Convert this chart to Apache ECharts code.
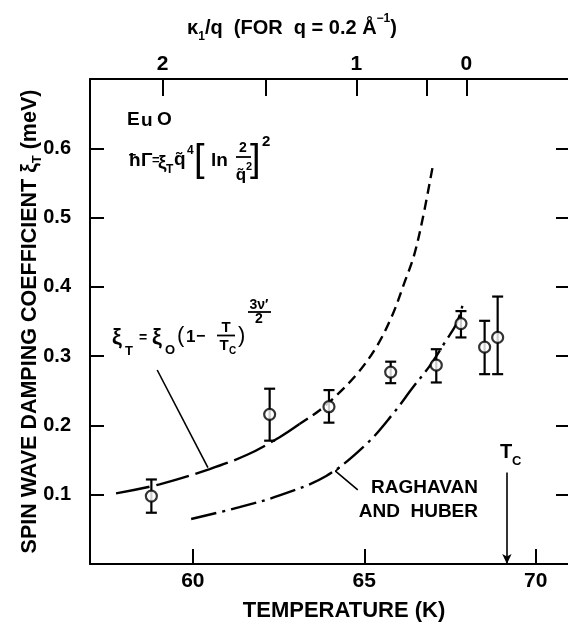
<!DOCTYPE html>
<html><head><meta charset="utf-8">
<script src="https://cdn.jsdelivr.net/npm/echarts@6/dist/echarts.min.js"></script>
<style>html,body{margin:0;padding:0;background:#fff}#c{width:568px;height:623px}</style>
</head><body><div id="c"></div>
<script>
// ---- axes / ticks ----
const tempTicks = [60, 65, 70];
const xiTicks = [0.1, 0.2, 0.3, 0.4, 0.5, 0.6];
const kappaTickTemps = [59.12, 62.14, 64.77, 66.83, 67.98];   // temperatures of the top-axis ticks
const kappaLabelTemps = [59.12, 64.77, 67.98];
const kappaLabels = ['2', '1', '0'];

// ---- measured points (T in K, xi_T in meV) ----
const measT    = [58.79, 62.24, 63.97, 65.77, 67.10, 67.82, 68.51, 68.89];
const measXi   = [0.098, 0.216, 0.227, 0.277, 0.287, 0.347, 0.313, 0.327];
const errLow   = [0.074, 0.178, 0.204, 0.261, 0.262, 0.327, 0.274, 0.274];
const errHigh  = [0.122, 0.253, 0.251, 0.292, 0.310, 0.365, 0.351, 0.386];

// ---- power-law curve, xi_T = xi_0 (1 - T/Tc)^(3nu'/2) ----
const powLowT  = [57.76, 59.03, 60.49, 61.60, 62.53, 63.11];
const powLowXi = [0.102, 0.115, 0.137, 0.158, 0.183, 0.202];
const powHighT  = [63.11, 63.70, 64.18, 64.80, 65.35, 65.80, 66.20, 66.45, 66.71, 67.00];
const powHighXi = [0.202, 0.222, 0.243, 0.275, 0.313, 0.357, 0.410, 0.445, 0.500, 0.575];

// ---- Raghavan and Huber curve ----
const rhT  = [59.95, 61.36, 62.53, 63.89, 65.06, 65.84, 66.42, 66.91, 67.39, 67.69, 67.88];
const rhXi = [0.065, 0.082, 0.099, 0.127, 0.173, 0.217, 0.255, 0.286, 0.323, 0.347, 0.376];

// ---- annotation leaders ----
const leadPowT = [58.96, 60.44];
const leadPowXi = [0.280, 0.139];
const leadRhT = [64.28, 64.16, 64.81];
const leadRhXi = [0.139, 0.134, 0.107];
const tcT = 69.16;
const tcArrowXi = [0.132, 0.0];

const zip = (a, b) => a.map((v, i) => [v, b[i]]);
const FONT = '"Liberation Sans", Arial, sans-serif';
const BLACK = '#000';

const chart = echarts.init(document.getElementById('c'), null, {renderer: 'canvas'});

function lineSeries(data, width, type) {
  return {
    type: 'line', data: data, showSymbol: false, symbol: 'none', smooth: 0.35,
    lineStyle: {color: BLACK, width: width, type: type || 'solid'},
    silent: true, z: 3, animation: false
  };
}

const axisLine = {show: true, onZero: false, lineStyle: {color: BLACK, width: 2}};

function txt(x, y, s, size, opts) {
  opts = opts || {};
  return {type: 'text', x: x, y: y, silent: true, style: {
    text: s, font: (opts.weight || 'bold') + ' ' + size + 'px ' + FONT, fill: BLACK,
    align: opts.align || 'left', verticalAlign: 'middle'}};
}
function bar(x1, x2, y) {
  return {type: 'line', silent: true, shape: {x1: x1, y1: y, x2: x2, y2: y}, style: {stroke: BLACK, lineWidth: 1.8}};
}

const option = {
  animation: false,
  backgroundColor: '#fff',
  grid: {left: 90, top: 79, width: 480, height: 485, outerBoundsMode: 'none', containLabel: false},
  xAxis: [
    {
      type: 'value', min: 57, max: 71, position: 'bottom',
      axisLine: axisLine,
      axisTick: {show: true, inside: true, length: 15, customValues: tempTicks, lineStyle: {color: BLACK, width: 2}},
      axisLabel: {customValues: tempTicks, color: BLACK, fontSize: 21, fontWeight: 'bold', fontFamily: FONT, margin: 7},
      splitLine: {show: false},
      name: 'TEMPERATURE (K)', nameLocation: 'middle', nameGap: 36, nameMoveOverlap: false,
      nameTextStyle: {color: BLACK, fontSize: 22, fontWeight: 'bold', fontFamily: FONT, padding: [0, 0, 0, 28]}
    },
    {
      type: 'value', min: 57, max: 71, position: 'top',
      axisLine: axisLine,
      axisTick: {show: true, inside: true, length: 17, customValues: kappaTickTemps, lineStyle: {color: BLACK, width: 2}},
      axisLabel: {
        customValues: kappaLabelTemps, color: BLACK, fontSize: 21, fontWeight: 'bold', fontFamily: FONT, margin: 4,
        formatter: function (v) {
          let best = 0;
          kappaLabelTemps.forEach((t, i) => { if (Math.abs(t - v) < Math.abs(kappaLabelTemps[best] - v)) best = i; });
          return kappaLabels[best];
        }
      },
      splitLine: {show: false}
    }
  ],
  yAxis: [
    {
      type: 'value', min: 0, max: 0.7, position: 'left',
      axisLine: axisLine,
      axisTick: {show: true, inside: true, length: 14, customValues: xiTicks, lineStyle: {color: BLACK, width: 2}},
      axisLabel: {customValues: xiTicks, color: BLACK, fontSize: 20, fontWeight: 'bold', fontFamily: FONT, margin: 19,
        formatter: v => v.toFixed(1)},
      splitLine: {show: false},
      name: '{n|SPIN WAVE DAMPING COEFFICIENT ξ}{s|T}{n| (meV)}',
      nameLocation: 'middle', nameRotate: 90, nameGap: 46, nameMoveOverlap: false,
      nameTextStyle: {
        color: BLACK, fontFamily: FONT,
        rich: {
          n: {fontSize: 21.5, fontWeight: 'bold', fontFamily: FONT, color: BLACK, lineHeight: 28},
          s: {fontSize: 13, fontWeight: 'bold', fontFamily: FONT, color: BLACK, verticalAlign: 'bottom'}
        }
      }
    },
    {
      type: 'value', min: 0, max: 0.7, position: 'right',
      axisLine: axisLine,
      axisTick: {show: true, inside: true, length: 14, customValues: xiTicks, lineStyle: {color: BLACK, width: 2}},
      axisLabel: {show: false},
      splitLine: {show: false}
    }
  ],
  series: [
    lineSeries(zip(powLowT, powLowXi), 2.4, [34, 7]),
    lineSeries(zip(powHighT, powHighXi), 2.4, [10, 6]),
    lineSeries(zip(rhT, rhXi), 2.4, [26, 6, 3, 6]),
    Object.assign(lineSeries(zip(leadPowT, leadPowXi), 1.6), {smooth: false}),
    Object.assign(lineSeries(zip(leadRhT, leadRhXi), 1.6), {smooth: false}),
    {
      type: 'line', data: [], silent: true,
      markLine: {
        silent: true, symbol: ['none', 'arrow'], symbolSize: [7, 10], label: {show: false},
        lineStyle: {color: BLACK, width: 1.6, type: 'solid'},
        data: [[{coord: [tcT, tcArrowXi[0]]}, {coord: [tcT, tcArrowXi[1]]}]]
      }
    },
    {
      type: 'custom', silent: true, z: 4,
      data: measT.map((t, i) => [t, errLow[i], errHigh[i]]),
      encode: {x: 0, y: [1, 2]},
      renderItem: function (params, api) {
        const lo = api.coord([api.value(0), api.value(1)]);
        const hi = api.coord([api.value(0), api.value(2)]);
        const hw = 5.5;
        const st = {stroke: BLACK, lineWidth: 2.2};
        return {
          type: 'group', children: [
            {type: 'line', shape: {x1: lo[0], y1: lo[1], x2: hi[0], y2: hi[1]}, style: st},
            {type: 'line', shape: {x1: lo[0] - hw, y1: lo[1], x2: lo[0] + hw, y2: lo[1]}, style: st},
            {type: 'line', shape: {x1: hi[0] - hw, y1: hi[1], x2: hi[0] + hw, y2: hi[1]}, style: st}
          ]
        };
      }
    },
    {
      type: 'scatter', data: zip(measT, measXi), symbol: 'circle', symbolSize: 11, z: 5, silent: true,
      itemStyle: {color: '#fff', borderColor: BLACK, borderWidth: 2.2}
    }
  ],
  graphic: [
    // top axis title
    {type: 'text', x: 292, y: 28, silent: true, style: {
      text: '{n|κ}{s|1}{n|/q  (FOR  q = 0.2 Å}{p|−1}{n|)}', align: 'center', verticalAlign: 'middle',
      rich: {
        n: {fontSize: 20, fontWeight: 'bold', fontFamily: FONT, fill: BLACK, lineHeight: 30},
        s: {fontSize: 12, fontWeight: 'bold', fontFamily: FONT, fill: BLACK, verticalAlign: 'bottom'},
        p: {fontSize: 12, fontWeight: 'bold', fontFamily: FONT, fill: BLACK, verticalAlign: 'top'}
      }}},
    // EuO
    txt(127, 120, 'E', 19), txt(141, 121, 'u', 19), txt(157, 120, 'O', 19),
    // formula 1: ħΓ = ξ_T q̃^4 [ln 2/q̃^2]^2
    txt(129, 161, 'ħ', 19),
    txt(141, 161, 'Γ', 19),
    txt(152, 160, '=', 13),
    txt(158, 163, 'ξ', 19),
    txt(166, 170, 'T', 12),
    txt(174, 160, 'q̃', 19),
    txt(187, 151, '4', 12),
    txt(194, 161, '[', 38, {weight: 'normal'}),
    txt(211, 161, 'ln', 19),
    txt(243, 148, '2', 14, {align: 'center'}),
    bar(236, 251, 157),
    txt(241, 175, 'q̃', 17, {align: 'center'}),
    txt(246, 167, '2', 11),
    txt(250, 161, ']', 38, {weight: 'normal'}),
    txt(262, 142, '2', 15),
    // formula 2: ξ_T = ξ_O (1 − T/T_C)^(3ν'/2)
    txt(112, 338, 'ξ', 22),
    txt(125, 351, 'T', 13),
    txt(139, 338, '=', 14),
    txt(152, 338, 'ξ', 22),
    txt(165, 350, 'O', 13),
    txt(177, 336, '(', 22, {weight: 'normal'}),
    txt(186, 337, '1', 17),
    txt(196, 337, '−', 16),
    txt(226, 328, 'T', 15, {align: 'center'}),
    bar(217, 235, 335.5),
    txt(224, 346, 'T', 15, {align: 'center'}),
    txt(229, 351, 'C', 10),
    txt(238, 336, ')', 22, {weight: 'normal'}),
    txt(259, 305, '3ν′', 14, {align: 'center'}),
    bar(248, 271, 312),
    txt(259, 319, '2', 14, {align: 'center'}),
    // Raghavan and Huber label
    txt(478, 488, 'RAGHAVAN', 19, {align: 'right'}),
    txt(478, 512, 'AND  HUBER', 19, {align: 'right'}),
    // Tc label
    txt(500, 452, 'T', 20),
    txt(512, 461, 'C', 13)
  ]
};
chart.setOption(option);
</script>
</body></html>
